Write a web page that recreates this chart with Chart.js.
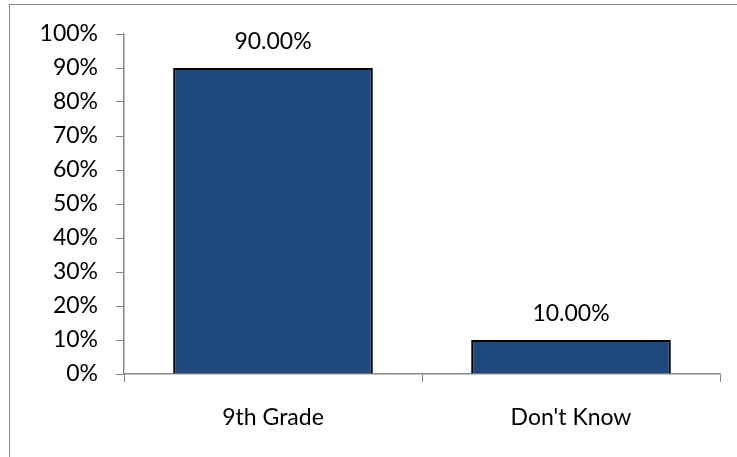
<!DOCTYPE html>
<html>
<head>
<meta charset="utf-8">
<script src="https://cdn.jsdelivr.net/npm/chart.js@4"></script>
<style>
    html, body { margin: 0; padding: 0; background: #fff; }
    #wrap { position: relative; width: 737px; height: 457px; overflow: hidden; }
    #frame {
        position: absolute; left: 9px; top: 4px; width: 740px; height: 460px;
        border-left: 1px solid #898989; border-top: 1px solid #898989;
        box-sizing: border-box;
    }
    canvas { position: absolute; left: 0; top: 0; }
</style>
</head>
<body>
<div id="wrap">
    <div id="frame"></div>
    <canvas id="chartGrade" width="737" height="457"></canvas>
</div>
<script>
const categories = ['9th Grade', "Don't Know"];
const values = [90, 10];
const yTicks = [0, 10, 20, 30, 40, 50, 60, 70, 80, 90, 100];

const axisGray = '#868686';
const fontFamily = 'Lato, "Open Sans", sans-serif';

// value labels above each bar
const barLabels = {
    id: 'barLabels',
    afterDatasetsDraw(chart) {
        const ctx = chart.ctx;
        const meta = chart.getDatasetMeta(0);
        ctx.save();
        ctx.font = '23px ' + fontFamily;
        ctx.fillStyle = '#000';
        ctx.textAlign = 'center';
        ctx.textBaseline = 'middle';
        meta.data.forEach((bar, i) => {
            ctx.fillText(values[i].toFixed(2) + '%', bar.x, bar.y - 26);
        });
        ctx.restore();
    }
};

const ctxGrade = document.getElementById('chartGrade').getContext('2d');

new Chart(ctxGrade, {
    type: 'bar',
    data: {
        labels: categories,
        datasets: [{
            data: values,
            backgroundColor: '#1F497D',
            borderColor: '#000000',
            borderWidth: 2,
            borderSkipped: 'bottom',
            categoryPercentage: 0.67,
            barPercentage: 1
        }]
    },
    options: {
        responsive: false,
        animation: false,
        layout: {
            padding: { top: 34, right: 17, bottom: 0, left: 0 }
        },
        plugins: {
            legend: { display: false },
            tooltip: { enabled: false }
        },
        scales: {
            y: {
                min: 0,
                max: 100,
                afterBuildTicks(scale) {
                    scale.ticks = yTicks.map(v => ({ value: v }));
                },
                afterFit(scale) { scale.width = 124; },
                ticks: {
                    padding: 18,
                    color: '#000',
                    font: { family: fontFamily, size: 23 },
                    callback: v => v + '%'
                },
                grid: { drawOnChartArea: false, color: axisGray, tickLength: 8 },
                border: { color: axisGray, width: 1.5 }
            },
            x: {
                afterFit(scale) { scale.height = 83; },
                ticks: {
                    padding: 22,
                    color: '#000',
                    font: { family: fontFamily, size: 23 }
                },
                grid: { drawOnChartArea: false, color: axisGray, tickLength: 8, offset: true },
                border: { color: axisGray, width: 1.5 }
            }
        }
    },
    plugins: [barLabels]
});
</script>
</body>
</html>
